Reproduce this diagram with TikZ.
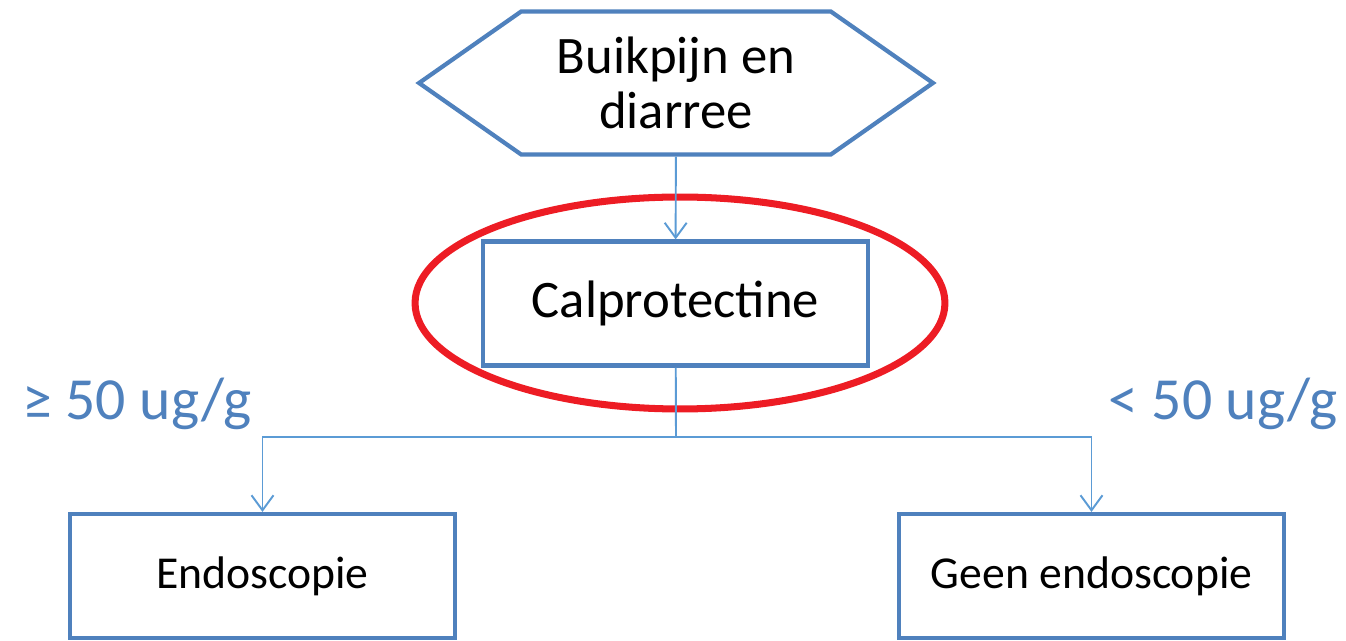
\documentclass[tikz,border=0pt]{standalone}
\usepackage{fontspec}
\setmainfont{Carlito}
\usetikzlibrary{shapes.symbols, arrows.meta, positioning}
\definecolor{boxblue}{RGB}{79, 129, 189}
\definecolor{lineblue}{RGB}{91, 155, 213}
\definecolor{ringred}{RGB}{237, 28, 36}

\begin{document}
\begin{tikzpicture}[x=0.02cm, y=-0.02cm,
  stap/.style={draw=boxblue, line width=2.4pt, fill=white, minimum width=7.7cm,
               minimum height=2.48cm, inner sep=0pt, font=\fontsize{26}{30}\selectfont},
  start/.style={signal, signal to=east and west, signal pointer angle=70,
                draw=boxblue, line width=2.4pt, fill=white, minimum width=10.28cm,
                minimum height=2.86cm, inner sep=0pt, align=center,
                font=\fontsize{30}{31}\selectfont},
  lijn/.style={draw=lineblue, line width=1.1pt},
  pijl/.style={lijn, -{Straight Barb[length=0.3cm, width=0.44cm]}},
  grens/.style={text=boxblue, font=\fontsize{34}{36}\selectfont}]
  \useasboundingbox (0,0) rectangle (1346,641);

  % klachten
  \node[start] (klacht) at (676,83) {Buikpijn en\\diarree};

  % test
  \node[stap, font=\fontsize{30}{32}\selectfont] (calpro) at (675.5,303.5) {Calprotectine};
  \draw[ringred, line width=4pt] (680,303) ellipse [x radius=5.3cm, y radius=2.12cm];

  % uitkomsten
  \node[stap] (endo) at (262.5,576) {Endoscopie};
  \node[stap] (geen) at (1091.5,576) {Geen endoscopie};

  % grenswaarden
  \node[grens, anchor=base west, inner sep=0pt] (hoog) at (22,420) {≥ 50 ug/g};
  \node[grens, anchor=base east, inner sep=0pt] (laag) at (1338,420) {< 50 ug/g};

  % verbindingen
  \coordinate (tak) at (676,437);
  \draw[pijl] (klacht) -- (calpro);
  \draw[lijn] (calpro) -- (tak);
  \draw[pijl] (tak) -| (endo);
  \draw[pijl] (tak) -| (geen);
\end{tikzpicture}
\end{document}
